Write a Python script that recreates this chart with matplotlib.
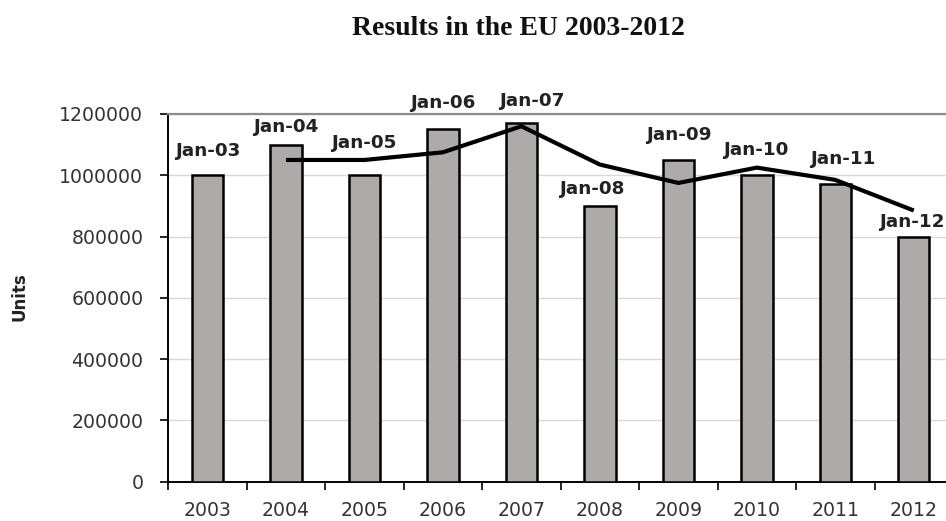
import matplotlib
matplotlib.use("Agg")
import matplotlib.pyplot as plt
import numpy as np

years = ["2003", "2004", "2005", "2006", "2007", "2008", "2009", "2010", "2011", "2012"]
units = [1000000, 1100000, 1000000, 1150000, 1170000, 900000, 1050000, 1000000, 970000, 800000]
bar_labels = ["Jan-03", "Jan-04", "Jan-05", "Jan-06", "Jan-07", "Jan-08", "Jan-09", "Jan-10", "Jan-11", "Jan-12"]
# 2-period moving average line, starts at 2004
avg_years = ["2004", "2005", "2006", "2007", "2008", "2009", "2010", "2011", "2012"]
avg_units = [1050000, 1050000, 1075000, 1160000, 1035000, 975000, 1025000, 985000, 885000]

# label offsets (pixels) from the top of each bar
label_dx = [0, 0, -1, 0, 10, -8, 0, -1, 7, -2]
label_dy = [24, 18, 32, 26, 22, 17, 25, 25, 25, 15]

plt.rcParams["font.family"] = ["DejaVu Sans"]

fig = plt.figure(figsize=(9.46, 5.21), dpi=100)
ax = fig.add_axes([0.1779, 0.0754, 0.8295, 0.7058])

x = np.arange(len(years))
ax.bar(x, units, width=0.4, color="#aeaaaa", edgecolor="black", linewidth=1.8, zorder=3)

ax_x = [years.index(y) for y in avg_years]
ax.plot(ax_x, avg_units, color="black", linewidth=3, solid_joinstyle="round",
        solid_capstyle="butt", zorder=4)

for i, lab in enumerate(bar_labels):
    ax.annotate(lab, (x[i], units[i]), xytext=(label_dx[i], label_dy[i]),
                textcoords="offset pixels", ha="center", va="center",
                fontsize=13.2, fontweight="bold", color="#222222",
                annotation_clip=False, zorder=5)

ax.set_xlim(-0.5, len(years) - 0.5)
ax.set_ylim(0, 1200000)
ax.set_yticks(np.arange(0, 1200001, 200000))
ax.set_yticklabels([str(v) for v in range(0, 1200001, 200000)])
ax.yaxis.grid(True, color="#d9d9d9", linewidth=1, zorder=0)
ax.set_axisbelow(True)

ax.set_xticks(x)
ax.set_xticklabels(years)
ax.set_xticks(np.arange(-0.5, len(years)), minor=True)
ax.tick_params(axis="x", which="major", length=0, pad=14, labelsize=13.6, labelcolor="#333333")
ax.tick_params(axis="x", which="minor", length=6, width=1.2, direction="out", color="black")
ax.tick_params(axis="y", length=6, width=1.2, direction="out", pad=12, labelsize=13.6,
               labelcolor="#333333")

ax.spines["right"].set_visible(False)
ax.spines["top"].set_color("#8c8c8c")
ax.spines["top"].set_linewidth(1.6)
ax.spines["left"].set_linewidth(1.4)
ax.spines["bottom"].set_linewidth(1.4)

fig.text(20 / 946, 1 - 297 / 521, "Units", rotation=90, ha="center", va="center",
         fontsize=12, fontweight="bold", color="#222222")
fig.text(518 / 946, 1 - 28.5 / 521, "Results in the EU 2003-2012", ha="center", va="center",
         fontsize=20, fontweight="bold", family="Liberation Serif", color="#111111")

fig.savefig("out.png", dpi=100)
